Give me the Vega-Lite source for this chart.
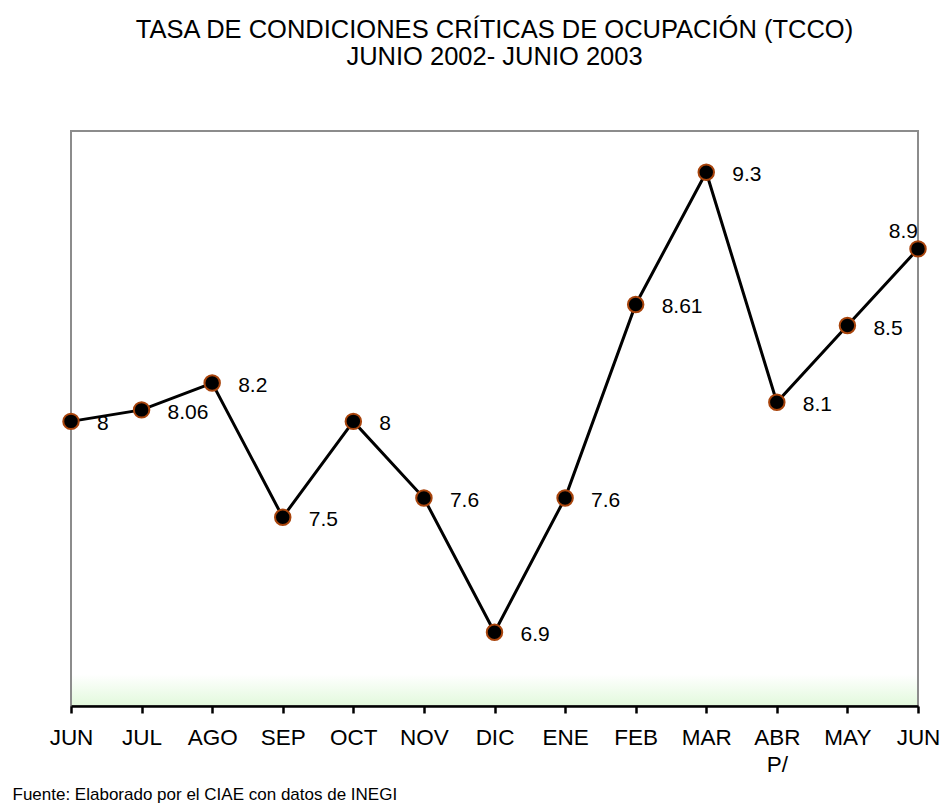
{
  "$schema": "https://vega.github.io/schema/vega-lite/v6.json",
  "autosize": "none",
  "width": 847,
  "height": 575,
  "padding": {"left": 71, "top": 131, "right": 27, "bottom": 99},
  "background": "white",
  "config": {
    "font": "Liberation Sans",
    "view": {
      "stroke": "#8c8c8c",
      "strokeWidth": 2,
      "fill": {
        "gradient": "linear", "x1": 0, "y1": 0, "x2": 0, "y2": 1,
        "stops": [
          {"offset": 0, "color": "#ffffff"},
          {"offset": 0.945, "color": "#ffffff"},
          {"offset": 1, "color": "#e2f9dc"}
        ]
      }
    }
  },
  "title": {
    "text": ["TASA DE CONDICIONES  CRÍTICAS  DE OCUPACIÓN (TCCO)", "JUNIO 2002- JUNIO 2003"],
    "font": "Liberation Sans",
    "fontSize": 25.5,
    "fontWeight": "normal",
    "lineHeight": 27,
    "color": "#000000",
    "anchor": "middle",
    "frame": "group",
    "offset": 61
  },
  "data": {
    "values": [
      {"mes": "JUN 02", "tasa": 8},
      {"mes": "JUL", "tasa": 8.06},
      {"mes": "AGO", "tasa": 8.2},
      {"mes": "SEP", "tasa": 7.5},
      {"mes": "OCT", "tasa": 8},
      {"mes": "NOV", "tasa": 7.6},
      {"mes": "DIC", "tasa": 6.9},
      {"mes": "ENE", "tasa": 7.6},
      {"mes": "FEB", "tasa": 8.61},
      {"mes": "MAR", "tasa": 9.3},
      {"mes": "ABR P/", "tasa": 8.1},
      {"mes": "MAY", "tasa": 8.5},
      {"mes": "JUN 03", "tasa": 8.9}
    ]
  },
  "encoding": {
    "x": {
      "field": "mes",
      "type": "ordinal",
      "sort": null,
      "scale": {"type": "point", "padding": 0},
      "axis": {
        "title": "Fuente: Elaborado por el CIAE con  datos de INEGI",
        "titleFont": "Liberation Sans",
        "titleFontSize": 17,
        "titleFontWeight": "normal",
        "titleColor": "#000000",
        "titleAnchor": "start",
        "titleAlign": "left",
        "titleBaseline": "middle",
        "titleX": -59,
        "titleY": 88,
        "labelExpr": "datum.value == 'ABR P/' ? ['ABR', 'P/'] : slice(datum.value, 0, 3)",
        "labelAngle": 0,
        "labelFontSize": 22.5,
        "labelColor": "#000000",
        "labelPadding": 13,
        "labelLineHeight": 27,
        "domainColor": "#000000",
        "domainWidth": 2.5,
        "tickColor": "#000000",
        "tickWidth": 2.5,
        "tickSize": 7,
        "grid": false
      }
    },
    "y": {
      "field": "tasa",
      "type": "quantitative",
      "scale": {"domain": [6.515, 9.515], "nice": false, "zero": false},
      "axis": null
    }
  },
  "layer": [
    {"mark": {"type": "line", "color": "#000000", "strokeWidth": 3}},
    {"mark": {"type": "point", "filled": true, "fill": "#000000", "stroke": "#a8440c", "strokeWidth": 2, "size": 240, "opacity": 1}},
    {
      "transform": [{"filter": "datum.mes != 'JUN 03'"}],
      "mark": {"type": "text", "align": "left", "baseline": "middle", "dx": 26, "dy": 3, "fontSize": 21, "color": "#000000"},
      "encoding": {"text": {"field": "tasa", "type": "quantitative"}}
    },
    {
      "transform": [{"filter": "datum.mes == 'JUN 03'"}],
      "mark": {"type": "text", "align": "right", "baseline": "middle", "dx": 0, "dy": -17, "fontSize": 21, "color": "#000000"},
      "encoding": {"text": {"field": "tasa", "type": "quantitative"}}
    }
  ]
}
